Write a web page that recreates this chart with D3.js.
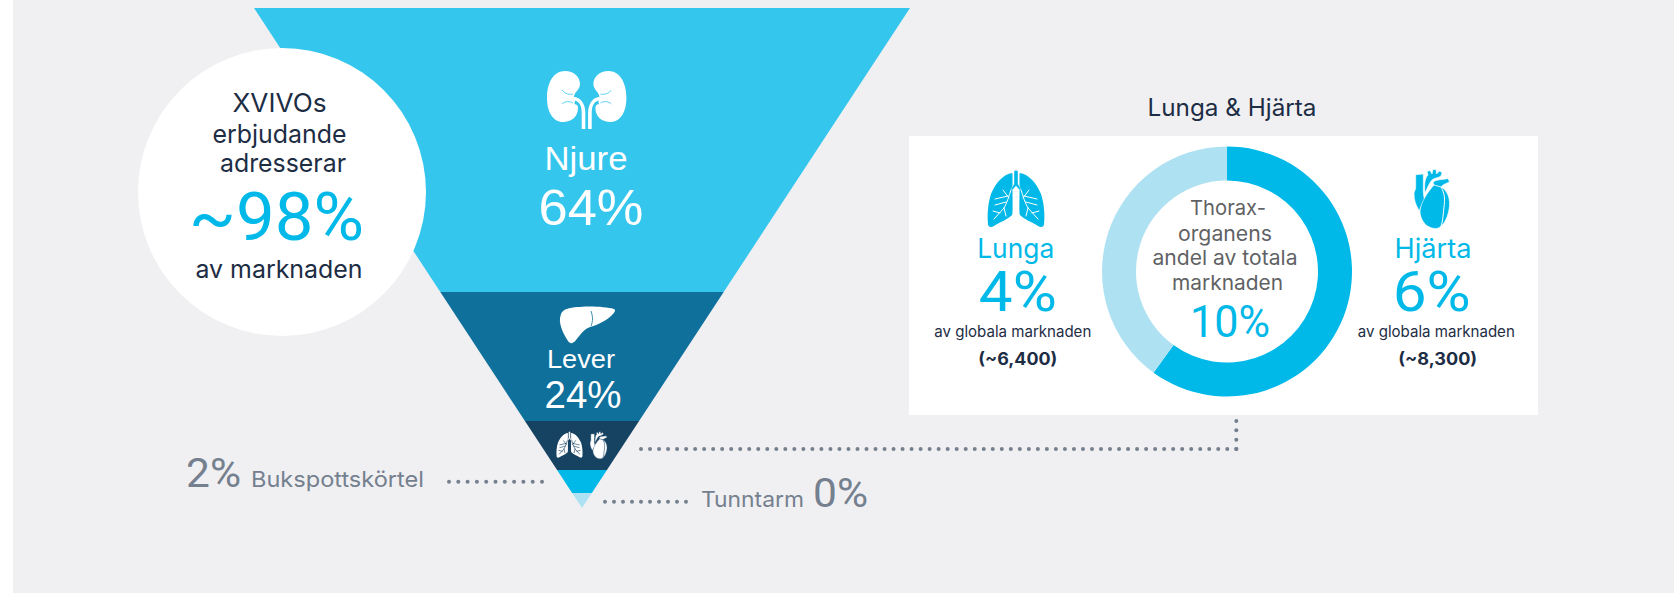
<!DOCTYPE html>
<html>
<head>
<meta charset="utf-8">
<script src="https://cdn.jsdelivr.net/npm/d3@7"></script>
<style>
  html, body { margin: 0; padding: 0; background: #fff; overflow: hidden; }
  svg { display: block; }
  text { text-anchor: middle; }
</style>
</head>
<body>
<script>
// funnel, top to bottom. depth = how much of the funnel's height the band takes
const organs = ['Njure', 'Lever', 'Lunga & Hjärta', 'Bukspottskörtel', 'Tunntarm'];
const shares = [64, 24, 10, 2, 0];
const bandDepth = [56.8, 25.8, 9.8, 4.6, 3.0];
const bandColors = ['#35c6ed', '#0f709c', '#174363', '#00b9e8', '#aee2f3'];

// donut
const thoraxOrgans = ['Hjärta', 'Lunga'];
const thoraxShares = [6, 4];
const thoraxTotals = ['(~8,300)', '(~6,400)'];
const thoraxColors = ['#00b9e8', '#aee2f3'];

const introLines = ['XVIVOs', 'erbjudande', 'adresserar'];
const introValue = '~98%';
const introTail = 'av marknaden';
const donutTitle = 'Lunga & Hjärta';
const donutCaption = ['Thorax-', 'organens', 'andel av totala', 'marknaden'];
const panelSub = 'av globala marknaden';

const W = 1678, H = 593;
const INK = '#1d2d44', CYAN = '#00b9e8', SLATE = '#75808f', GREY = '#5f6264';
const SANS = 'Inter, "Liberation Sans", sans-serif';
const ARIAL = '"Liberation Sans", sans-serif';
const LIGHT = 'Roboto, "Liberation Sans", sans-serif';

// hand traced icon outlines
const kidneyPath = 'M565 71C574 71 580 77 580 84C580 90 574 92 574 97C574 101 578 104 578 108C578 117 571 122 563 122C553 122 547 112 547 98C547 82 554 71 565 71Z';
const liverPath = 'M561 314C563 309 570 307 580 307C592 306 606 307 614 309C616 310 615 312 612 315C606 321 597 325 590 327C584 329 581 334 576 340C573 344 570 344 568 341C564 335 559 325 560 318Z';
const lungPath = 'M-4 3C-12 4-20 12-25 24C-28 33-29 45-28 54C-28 57-25 58-22 56C-16 52-9 50-4 45C-3 44-3.5 32-3.5 20L-3.5 4Z';
const tracheaPath = 'M-2 1Q0-.6 2 1L2 14L5 19L3.6 20L0 16L-3.6 20L-5 19L-2 14Z';
const bronchiPath = 'M-5 20C-7 26-9 33-12 38L-22 49M-8 26L-21 29M-7 28L-13 20M-10 32L-21 35M-12 38L-10 46M-16 43L-23 41';
const heartParts = [
  'M1.7 5.7L9.3 5L9.3 22C9.3 27 10.5 30 11 32C7 36 6 40 5.5 42C2 37 0 31 0 25C0 22 1.7 21 1.7 19Z',
  'M11 24C10 15 11 9 14 6L13 2.5L16 1.5L18 5L19 .5L22 .5L22.5 5L25.5 2L28 3.5L27 7C24 9 20 9 18 11C15 14 13 20 11 24Z',
  'M19 13C23 10 29 11 34 9.5L35.5 13C31 15 28 16 27 18L20 16Z',
  'M6 42C7 33 13 24 20 16C22 17 24 17 27 18C31 20 35 25 35.5 33C36 42 32 54 26 58C22 61 16 59 12 56C8 52 6 47 6 42Z',
];
const heartLine = 'M27 18C31 25 31 30 30 38C29 46 29 52 27 57';

const svg = d3.select('body').append('svg').attr('width', W).attr('height', H);

svg.append('rect').attr('x', 13).attr('y', 0).attr('width', 1661).attr('height', H).attr('fill', '#f0f0f3');

// funnel
const yScale = d3.scaleLinear().domain([0, 100]).range([8, 508]);
const halfWidth = d3.scaleLinear().domain([0, 100]).range([328, 0]);
const apexX = 582;
let depthSoFar = 0;
const bands = shares.map((s, i) => {
  const b = { organ: organs[i], share: s, from: depthSoFar, to: depthSoFar + bandDepth[i], color: bandColors[i] };
  depthSoFar = b.to;
  return b;
});

svg.selectAll('path.band')
  .data(bands)
  .enter()
  .append('path')
  .attr('class', 'band')
  .attr('fill', d => d.color)
  .attr('d', d => d3.line()([
    [apexX - halfWidth(d.from), yScale(d.from)],
    [apexX + halfWidth(d.from), yScale(d.from)],
    [apexX + halfWidth(d.to), yScale(d.to)],
    [apexX - halfWidth(d.to), yScale(d.to)],
  ]) + 'Z');

function label(parent, txt, x, y, size, color, opts) {
  opts = opts || {};
  const t = parent.append('text')
    .attr('x', x).attr('y', y)
    .attr('font-size', size)
    .attr('font-family', opts.family || SANS)
    .attr('font-weight', opts.weight || 400)
    .attr('fill', color)
    .text(txt);
  if (opts.anchor) t.style('text-anchor', opts.anchor);
  if (opts.width) t.attr('textLength', opts.width).attr('lengthAdjust', 'spacingAndGlyphs');
  return t;
}

function drawLungs(x, y, sx, sy, fill, detail, detailWidth) {
  const g = svg.append('g').attr('transform', `translate(${x},${y}) scale(${sx},${sy})`);
  [-1, 1].forEach(side => {
    const half = g.append('g').attr('transform', `scale(${side},1)`);
    half.append('path').attr('d', lungPath).attr('fill', fill);
    half.append('path').attr('d', bronchiPath).attr('fill', 'none')
      .attr('stroke', detail).attr('stroke-width', detailWidth).attr('stroke-linecap', 'round');
  });
  g.append('path').attr('d', tracheaPath).attr('fill', fill).attr('stroke', detail).attr('stroke-width', 0.4);
}

function drawHeart(x, y, sx, sy, fill, detail, detailWidth) {
  const g = svg.append('g').attr('transform', `translate(${x},${y}) scale(${sx},${sy})`);
  g.selectAll('path')
    .data(heartParts)
    .enter()
    .append('path')
    .attr('d', d => d)
    .attr('fill', fill)
    .attr('stroke', detail)
    .attr('stroke-width', detailWidth * 0.6);
  g.append('path').attr('d', heartLine).attr('fill', 'none')
    .attr('stroke', detail).attr('stroke-width', detailWidth);
}

// white circle
svg.append('circle').attr('cx', 282).attr('cy', 192).attr('r', 144).attr('fill', '#fff');
introLines.forEach((l, i) => {
  label(svg, l, [279.5, 279.5, 283][i], [112, 143, 172][i], 25.5, INK, { width: [94, 134, 126][i] });
});
label(svg, introValue, 276.5, 240, 66, CYAN, { family: LIGHT, weight: 400, width: 175 });
label(svg, introTail, 279, 278, 24.5, INK, { width: 167 });

// kidneys
const kidneys = svg.append('g');
[0, 1].forEach(flip => {
  const k = kidneys.append('g').attr('transform', flip ? 'translate(1173.4,0) scale(-1,1)' : null);
  k.append('path').attr('d', kidneyPath).attr('fill', '#fff');
  k.append('path').attr('d', 'M575 101C581 102 583.5 107 583.5 114').attr('fill', 'none')
    .attr('stroke', bandColors[0]).attr('stroke-width', 6);
  k.append('path').attr('d', 'M573 98.5C580 99 583.5 105 583.5 113L583.5 129').attr('fill', 'none')
    .attr('stroke', '#fff').attr('stroke-width', 3.6);
  k.append('path').attr('d', 'M562 90C565 94 570 95 573 94M562 104C565 101 570 101 573 103').attr('fill', 'none')
    .attr('stroke', bandColors[0]).attr('stroke-width', 0.8);
});

// liver
svg.append('path').attr('d', liverPath).attr('fill', '#fff');
svg.append('path').attr('d', 'M591 311C593 317 593 321 591 326').attr('fill', 'none')
  .attr('stroke', bandColors[1]).attr('stroke-width', 0.8);

// small organs in the dark band
drawLungs(569.5, 431.5, 0.46, 0.46, '#fff', bandColors[2], 1.4);
drawHeart(590, 431.5, 0.48, 0.46, '#fff', bandColors[2], 1.2);

// funnel labels
label(svg, organs[0], 586, 170, 33, '#fff', { family: ARIAL, width: 83 });
label(svg, shares[0] + '%', 591, 225, 50, '#fff', { family: ARIAL, width: 105 });
label(svg, organs[1], 581, 368, 26, '#fff', { family: ARIAL, width: 68 });
label(svg, shares[1] + '%', 583, 408, 38, '#fff', { family: ARIAL, width: 77 });

// side labels
label(svg, shares[3] + '%', 186, 487, 40, SLATE, { family: LIGHT, weight: 400, anchor: 'start', width: 55 });
label(svg, organs[3], 251, 487, 22, SLATE, { anchor: 'start', width: 173 });
label(svg, organs[4], 701, 507, 22, SLATE, { anchor: 'start', width: 103 });
label(svg, shares[4] + '%', 813, 507, 40, SLATE, { family: LIGHT, weight: 400, anchor: 'start', width: 55 });

// dotted leaders
function dots(parent, x1, y1, x2, y2, step) {
  const n = Math.round(Math.hypot(x2 - x1, y2 - y1) / step);
  parent.selectAll(null)
    .data(d3.range(n + 1))
    .enter()
    .append('circle')
    .attr('cx', i => x1 + (x2 - x1) * i / n)
    .attr('cy', i => y1 + (y2 - y1) * i / n)
    .attr('r', 2)
    .attr('fill', SLATE);
}
dots(svg, 449, 481.7, 542, 481.7, 9.2);
dots(svg, 605, 501.7, 686, 501.7, 9);
dots(svg, 641, 449, 1236.3, 449, 9);
dots(svg, 1236.3, 449, 1236.3, 421, 9.3);

// panel
label(svg, donutTitle, 1232, 116, 24, INK, { width: 169 });
svg.append('rect').attr('x', 909).attr('y', 136).attr('width', 629).attr('height', 279).attr('fill', '#fff');

const donut = svg.append('g').attr('transform', 'translate(1227,271.5)');
const pie = d3.pie().sort(null)(thoraxShares);
donut.selectAll('path')
  .data(pie)
  .enter()
  .append('path')
  .attr('fill', (d, i) => thoraxColors[i])
  .attr('d', d3.arc().innerRadius(91).outerRadius(125));

donutCaption.forEach((l, i) => {
  label(svg, l, [1228, 1225, 1225, 1227.5][i], [215, 241, 265, 290][i], 20.5, GREY, { width: [76, 94, 145, 111][i] });
});
label(svg, d3.sum(thoraxShares) + '%', 1230, 336.5, 44, CYAN, { family: LIGHT, weight: 400, width: 80 });

// side columns of the panel
drawLungs(1016, 170, 1, 1, CYAN, '#fff', 1);
label(svg, thoraxOrgans[1], 1015.7, 258, 27, CYAN, { width: 77 });
label(svg, thoraxShares[1] + '%', 1017.8, 311, 55, CYAN, { family: LIGHT, weight: 400, width: 78 });
label(svg, panelSub, 1012.8, 337, 15.3, INK, { width: 157 });
label(svg, thoraxTotals[1], 1017.8, 365, 17, INK, { weight: 700, width: 79 });

drawHeart(1414, 169, 1, 1, CYAN, '#fff', 1);
label(svg, thoraxOrgans[0], 1433, 258, 27, CYAN, { width: 77 });
label(svg, thoraxShares[0] + '%', 1431.7, 311, 55, CYAN, { family: LIGHT, weight: 400, width: 78 });
label(svg, panelSub, 1436.3, 337, 15.3, INK, { width: 157 });
label(svg, thoraxTotals[0], 1437.7, 365, 17, INK, { weight: 700, width: 79 });
</script>
</body>
</html>
